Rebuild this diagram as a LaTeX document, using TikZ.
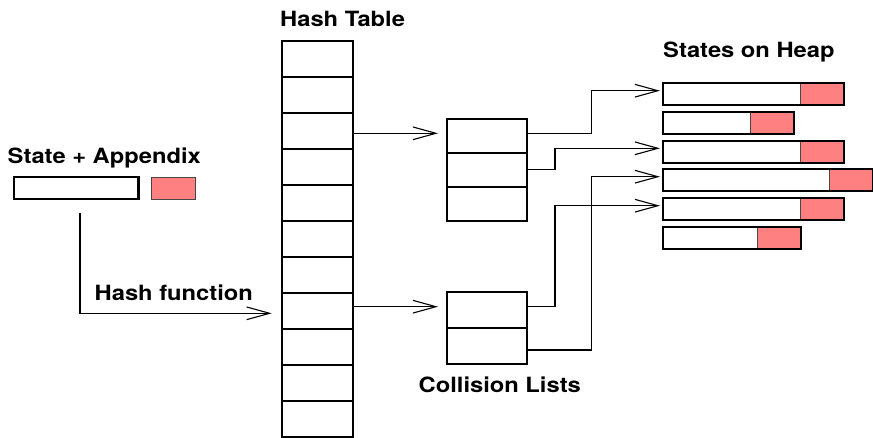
\documentclass[tikz,border=0pt]{standalone}
\usepackage{fontspec}
\setmainfont[FakeStretch=1.13]{TeX Gyre Heros}
\usetikzlibrary{arrows.meta}
\definecolor{appcol}{RGB}{255,128,128}
\definecolor{appline}{RGB}{70,70,70}
\begin{document}
\begin{tikzpicture}[x=1pt,y=-1pt,
  lbl/.style={anchor=base west, inner sep=0pt, font=\fontsize{21}{24}\selectfont\bfseries},
  htcell/.style={draw, line width=2.3pt, rectangle, inner sep=0pt, outer sep=0pt, minimum width=71.6pt, minimum height=36pt},
  clcell/.style={draw, line width=2.3pt, rectangle, inner sep=0pt, outer sep=0pt, minimum width=80.6pt},
  statebox/.style={fill=white, rectangle, inner sep=0pt, outer sep=0pt, minimum height=22pt, anchor=west},
  appbox/.style={fill=appcol, draw=appline, line width=0.8pt, rectangle, inner sep=0pt, outer sep=0pt, minimum height=22pt, minimum width=43.7pt, anchor=west},
  border/.style={draw, line width=2.3pt},
  arr/.style={line width=1.1pt, -{Straight Barb[length=23pt,width=12.7pt]}}
]
\useasboundingbox (0,0) rectangle (873,437);

% titles
\node[lbl] (tht) at (280,26.4) {Hash Table};
\node[lbl] (tsh) at (663,57.4) {States on Heap};
\node[lbl] (tsa) at (7.5,163) {State + Appendix};
\node[lbl] (thf) at (94.5,300) {Hash function};
\node[lbl] (tcl) at (418.5,392) {Collision Lists};

% state + appendix
\node[draw, line width=2.3pt, rectangle, inner sep=0pt, outer sep=0pt, minimum width=124.3pt, minimum height=22.3pt] (sb) at (76.2,187.9) {};
\node[fill=appcol, draw=appline, line width=0.8pt, rectangle, inner sep=0pt, outer sep=0pt, minimum width=44pt, minimum height=21.7pt] (sa) at (173.7,188.2) {};

% hash table
\foreach \i in {1,...,11} {
  \node[htcell] (ht\i) at (317.5,{22.7+36*\i}) {};
}

% collision lists
\node[clcell, minimum height=34pt] (c1a) at (487,136) {};
\node[clcell, minimum height=34pt] (c1b) at (487,170) {};
\node[clcell, minimum height=34pt] (c1c) at (487,204) {};
\node[clcell, minimum height=36pt] (c2a) at (487,310.2) {};
\node[clcell, minimum height=36pt] (c2b) at (487,346.2) {};

% states on heap
\foreach \n/\y/\w in {1/94.2/136.7, 2/123/86.7, 3/151.7/136.7, 4/180.3/166, 5/209.3/136.7, 6/238.3/94} {
  \node[statebox, minimum width=\w] (h\n) at (663.3,\y) {};
  \node[appbox] (h\n r) at (h\n.east) {};
  \draw[border] (h\n.north west) rectangle (h\n r.south east);
}

% connectors
\coordinate (hs) at (80,213.3);
\draw[arr, shorten >=10pt] (hs) |- ([yshift=-2.6pt]ht8.west);
\draw[arr, shorten >=8.7pt] ([yshift=-2.6pt]ht3.east) -- ([yshift=-2.6pt]ht3.east -| c1a.west);
\draw[arr, shorten >=8.7pt] ([yshift=4pt]ht8.east) -- ([yshift=4pt]ht8.east -| c2a.west);

\draw[arr, shorten >=3.3pt] ([yshift=2.7pt]c1a.east) -- ++(64.4,0) |- ([yshift=3.5pt]h1.west);
\draw[arr, shorten >=3.3pt] ([yshift=0.7pt]c1b.east) -- ++(27.7,0) |- ([yshift=3.4pt]h3.west);
\draw[arr, shorten >=3.3pt] ([yshift=3.5pt]c2a.east) -- ++(27.7,0) |- ([yshift=3.6pt]h5.west);
\draw[arr, shorten >=3.3pt] ([yshift=-3.8pt]c2b.east) -- ++(64.4,0) |- ([yshift=3.6pt]h4.west);
\end{tikzpicture}
\end{document}
